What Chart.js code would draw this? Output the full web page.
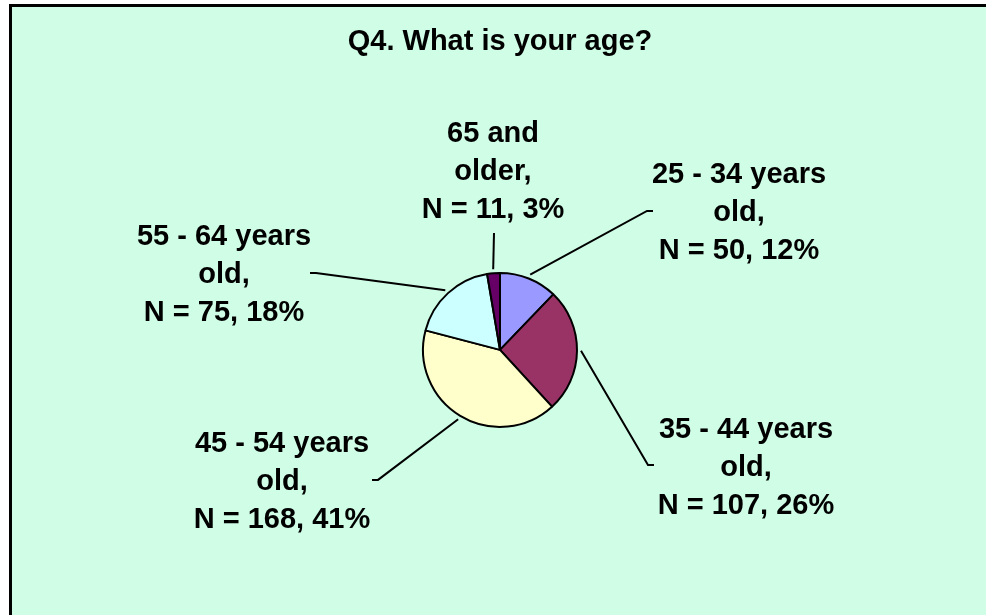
<!DOCTYPE html>
<html>
<head>
<meta charset="utf-8">
<title>Q4. What is your age?</title>
<script src="https://cdn.jsdelivr.net/npm/chart.js@4.4.1/dist/chart.umd.min.js"></script>
<style>
    html, body { margin: 0; padding: 0; background: #fff; overflow: hidden; }
    #frame {
        position: absolute; left: 9px; top: 4px;
        width: 1100px; height: 700px;
        border: 3px solid #000;
        background: #d0fde6;
    }
    #ageChart { position: absolute; left: 0; top: 0; }
</style>
</head>
<body>
<div id="frame"></div>
<canvas id="ageChart" width="986" height="615"></canvas>
<script>
// Age groups (label lines) and respondent counts, clockwise from 12 o'clock
const ageGroups = [
    ['25 - 34 years', 'old'],
    ['35 - 44 years', 'old'],
    ['45 - 54 years', 'old'],
    ['55 - 64 years', 'old'],
    ['65 and', 'older']
];
const counts = [50, 107, 168, 75, 11];
const sliceColors = ['#9999ff', '#993366', '#ffffcc', '#ccffff', '#660066'];

// where each label and its leader line sit, relative to the pie centre
const labelOffsets = [[239, -137], [246, 118], [-218, 132], [-276, -75], [-7, -178]];
const leaderEnds = [[147, -139], [148, 115], [-122, 130], [-184, -77], [-6, -117]];

const total = counts.reduce((a, b) => a + b, 0);

const sliceLabels = {
    id: 'sliceLabels',
    afterDatasetsDraw(chart) {
        const ctx = chart.ctx;
        const meta = chart.getDatasetMeta(0);
        ctx.save();
        ctx.strokeStyle = '#000';
        ctx.lineWidth = 2;
        ctx.fillStyle = '#000';
        ctx.font = 'bold 29px "Liberation Sans", Arial, sans-serif';
        ctx.textAlign = 'center';
        ctx.textBaseline = 'middle';

        meta.data.forEach((arc, i) => {
            const { x, y, startAngle, endAngle, outerRadius } =
                arc.getProps(['x', 'y', 'startAngle', 'endAngle', 'outerRadius'], true);
            const mid = (startAngle + endAngle) / 2;

            // leader line from the slice edge out towards the label
            const sx = x + Math.cos(mid) * (outerRadius + 4);
            const sy = y + Math.sin(mid) * (outerRadius + 4);
            const ex = x + leaderEnds[i][0];
            const ey = y + leaderEnds[i][1];
            ctx.beginPath();
            ctx.moveTo(sx, sy);
            ctx.lineTo(ex, ey);
            if (Math.abs(ex - sx) > 20) {
                ctx.lineTo(ex + (ex > sx ? 6 : -6), ey);
            }
            ctx.stroke();

            // label text
            const pct = Math.round(counts[i] / total * 100);
            const lines = ageGroups[i].slice();
            lines[lines.length - 1] += ',';
            lines.push('N = ' + counts[i] + ', ' + pct + '%');
            const lx = x + labelOffsets[i][0];
            const ly = y + labelOffsets[i][1];
            lines.forEach((t, j) => {
                ctx.fillText(t, lx, ly + (j - (lines.length - 1) / 2) * 38);
            });
        });
        ctx.restore();
    }
};

const ctx = document.getElementById('ageChart').getContext('2d');
new Chart(ctx, {
    type: 'pie',
    data: {
        labels: ageGroups.map(g => g.join(' ')),
        datasets: [{
            data: counts,
            backgroundColor: sliceColors,
            borderColor: '#000',
            borderWidth: 2,
            radius: 77
        }]
    },
    options: {
        responsive: false,
        animation: false,
        layout: { padding: { left: 214, right: 200, top: 0, bottom: 75 } },
        plugins: {
            legend: { display: false },
            tooltip: { enabled: false },
            title: {
                display: true,
                text: 'Q4. What is your age?',
                color: '#000',
                font: { family: '"Liberation Sans", Arial, sans-serif', size: 29, weight: 'bold' },
                padding: { top: 25, bottom: 100 }
            }
        }
    },
    plugins: [sliceLabels]
});
</script>
</body>
</html>
